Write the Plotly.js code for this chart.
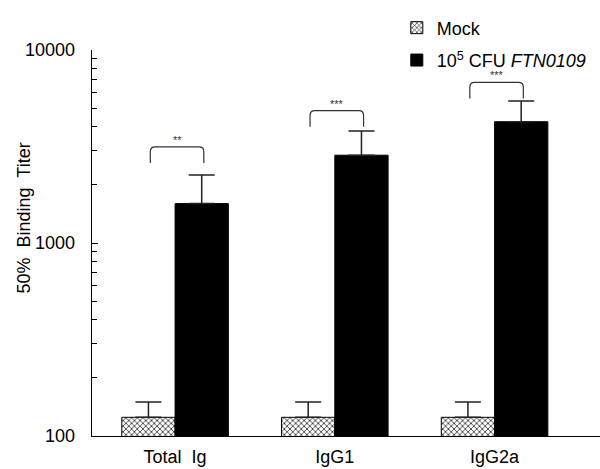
<!DOCTYPE html>
<html>
<head>
<meta charset="utf-8">
<script src="https://cdn.plot.ly/plotly-3.0.1.min.js"></script>
<style>html,body{margin:0;padding:0;background:#fff;}#chart{width:600px;height:469px;}</style>
</head>
<body>
<div id="chart"></div>
<script>
// ---- data ----
const categories = ["Total\u00a0 Ig", "IgG1", "IgG2a"];
const mockValues = [125, 125, 125];
const mockErrors = [25, 25, 25];
const ftnValues = [1600, 2850, 4250];
const ftnErrors = [650, 950, 1200];
const bracketBase = [2600, 4000, 5600];
const bracketTop = [3150, 4850, 6800];
const significance = ["**", "***", "***"];
const yTickVals = [100, 1000, 10000];
const yTickText = ["100", "1000", "10000"];
const yMinorVals = [200,300,400,500,600,700,800,900,2000,3000,4000,5000,6000,7000,8000,9000];
const yTitle = "50%\u00a0 Binding\u00a0 Titer";

const FONT = "Liberation Sans, Arial, sans-serif";

const traces = [
  {
    type: "bar", name: "Mock", x: categories, y: mockValues, legendgroup: "a",
    marker: {color: "white", line: {color: "black", width: 1},
             pattern: {shape: "x", size: 4, solidity: 0.35, fgcolor: "#222", bgcolor: "white"}},
    error_y: {type: "data", array: mockErrors, arrayminus: mockValues.map(() => 0), symmetric: false,
              color: "#222", thickness: 1.5, width: 13}
  },
  {
    type: "bar", name: "10<sup>5</sup> CFU <i>FTN0109</i>", x: categories, y: ftnValues, legendgroup: "b",
    marker: {color: "black", line: {color: "black", width: 1}},
    error_y: {type: "data", array: ftnErrors, arrayminus: ftnValues.map(() => 0), symmetric: false,
              color: "#222", thickness: 1.5, width: 13}
  }
];

const shapes = [];
const annotations = [];
categories.forEach((c, i) => {
  const xl = i - 0.155, xr = i + 0.18, dx = 0.03;
  const yb = bracketBase[i], yt = bracketTop[i], yc = yt / 1.06;
  shapes.push({
    type: "path", xref: "x", yref: "y",
    path: `M${xl},${yb} L${xl},${yc} Q${xl},${yt} ${xl+dx},${yt} L${xr-dx},${yt} Q${xr},${yt} ${xr},${yc} L${xr},${yb}`,
    line: {color: "#333", width: 1.2}
  });
  annotations.push({
    xref: "x", yref: "y", x: (xl + xr) / 2, y: Math.log10(yt), yanchor: "bottom", yshift: 0,
    borderpad: 0, text: significance[i], showarrow: false, font: {family: FONT, size: 11, color: "#333"}
  });
});
// y-axis title
annotations.push({
  xref: "paper", yref: "paper", x: -0.134, y: 0.566, xanchor: "center", yanchor: "middle",
  textangle: -90, text: yTitle, showarrow: false, font: {family: FONT, size: 18, color: "black"}
});

const layout = {
  width: 600, height: 469,
  margin: {l: 92, r: 0, t: 50, b: 33},
  paper_bgcolor: "white", plot_bgcolor: "white",
  font: {family: FONT, size: 18, color: "black"},
  barmode: "group", bargap: 0.333, bargroupgap: 0,
  showlegend: true,
  legend: {x: 0.6, y: 1.105, xanchor: "left", yanchor: "top", tracegroupgap: 6,
           font: {family: FONT, size: 18, color: "black"}, bgcolor: "rgba(0,0,0,0)"},
  xaxis: {range: [-0.52, 2.66], showline: true, linecolor: "black", linewidth: 1.3,
          ticks: "", showgrid: false, zeroline: false, ticklabelstandoff: 4,
          tickfont: {family: FONT, size: 18, color: "black"}},
  yaxis: {type: "log", range: [2, 4], showline: true, linecolor: "black", linewidth: 1.3,
          tickvals: yTickVals, ticktext: yTickText, ticks: "inside", ticklen: 6, tickcolor: "black",
          showgrid: false, zeroline: false, ticklabelstandoff: 12, automargin: false,
          minor: {tickvals: yMinorVals, ticks: "inside", ticklen: 5, tickcolor: "black", showgrid: false},
          tickfont: {family: FONT, size: 18, color: "black"}},
  shapes: shapes,
  annotations: annotations
};

Plotly.newPlot("chart", traces, layout, {displayModeBar: false, staticPlot: true});
</script>
</body>
</html>
